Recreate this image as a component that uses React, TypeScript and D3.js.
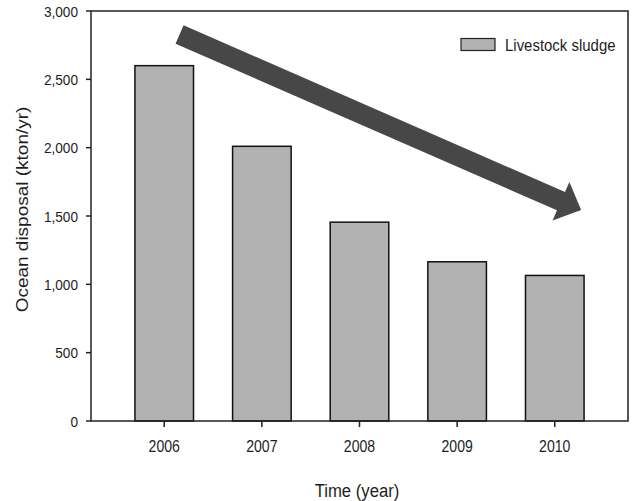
import React from "react";
import * as d3 from "d3";

const years = ["2006", "2007", "2008", "2009", "2010"];
const sludge = [2600, 2010, 1455, 1165, 1065];
const yTicks = [0, 500, 1000, 1500, 2000, 2500, 3000];
const seriesName = "Livestock sludge";
// trend arrow in data units: [category index, kton/yr]
const arrowFrom = [0.157, 2828];
const arrowTo = [4.27, 1544];

const W = 632;
const H = 501;
const M = { left: 91, right: 628, top: 11, bottom: 421 };
const FONT = "'Liberation Sans', Arial, sans-serif";
const SX = 0.88;

function T({
  x,
  y,
  size,
  anchor = "start",
  rotate = 0,
  dy,
  children,
}: {
  x: number;
  y: number;
  size: number;
  anchor?: string;
  rotate?: number;
  dy?: string;
  children: React.ReactNode;
}) {
  return (
    <text
      transform={`translate(${x},${y}) scale(${SX},1) rotate(${rotate})`}
      textAnchor={anchor as any}
      fontSize={size}
      dy={dy}
      fill="#1e1e1e"
    >
      {children}
    </text>
  );
}

export default function App() {
  const x = d3
    .scaleBand<string>()
    .domain(years)
    .range([M.left, M.right])
    .paddingInner(0.4)
    .paddingOuter(0.45);
  const y = d3.scaleLinear().domain([0, 3000]).range([M.bottom, M.top]);
  const xi = d3
    .scaleLinear()
    .domain([0, 1])
    .range([
      (x(years[0]) as number) + x.bandwidth() / 2,
      (x(years[1]) as number) + x.bandwidth() / 2,
    ]);
  const fmt = d3.format(",");

  // arrow polygon
  const x0 = xi(arrowFrom[0]);
  const y0 = y(arrowFrom[1]);
  const x1 = xi(arrowTo[0]);
  const y1 = y(arrowTo[1]);
  const dx = x1 - x0;
  const dy = y1 - y0;
  const len = Math.hypot(dx, dy);
  const ux = dx / len;
  const uy = dy / len;
  const nx = -uy;
  const ny = ux;
  const shaftHalf = 10;
  const headHalf = 21;
  const headLen = 22;
  const bx = x1 - ux * headLen;
  const by = y1 - uy * headLen;
  const pts: [number, number][] = [
    [x0 + nx * shaftHalf, y0 + ny * shaftHalf],
    [bx + nx * shaftHalf, by + ny * shaftHalf],
    [bx + nx * headHalf, by + ny * headHalf],
    [x1, y1],
    [bx - nx * headHalf, by - ny * headHalf],
    [bx - nx * shaftHalf, by - ny * shaftHalf],
    [x0 - nx * shaftHalf, y0 - ny * shaftHalf],
  ];
  const arrowPath = d3.line()(pts) + "Z";

  return (
    <svg
      width={W}
      height={H}
      style={{ position: "absolute", left: 0, top: 0, background: "#fff" }}
      fontFamily={FONT}
    >
      <rect x={0} y={0} width={W} height={H} fill="#fff" />
      {/* bars */}
      {years.map((yr, i) => (
        <rect
          key={yr}
          x={x(yr)}
          y={y(sludge[i])}
          width={x.bandwidth()}
          height={y(0) - y(sludge[i])}
          fill="#b2b2b2"
          stroke="#111"
          strokeWidth={1.5}
        />
      ))}
      {/* arrow */}
      <path d={arrowPath} fill="#474747" />
      {/* frame */}
      <rect
        x={M.left}
        y={M.top}
        width={M.right - M.left}
        height={M.bottom - M.top}
        fill="none"
        stroke="#222"
        strokeWidth={1.5}
      />
      {/* y ticks */}
      {yTicks.map((t) => (
        <g key={t}>
          <line x1={M.left - 5} x2={M.left} y1={y(t)} y2={y(t)} stroke="#222" strokeWidth={1.5} />
          <T x={M.left - 13} y={y(t)} dy="0.36em" anchor="end" size={15.5}>
            {fmt(t)}
          </T>
        </g>
      ))}
      {/* x ticks */}
      {years.map((yr) => {
        const cx = (x(yr) as number) + x.bandwidth() / 2;
        return (
          <g key={yr}>
            <line x1={cx} x2={cx} y1={M.bottom} y2={M.bottom + 6} stroke="#222" strokeWidth={1.5} />
            <T x={cx} y={452} anchor="middle" size={16}>
              {yr}
            </T>
          </g>
        );
      })}
      {/* axis titles */}
      <T x={357} y={496.5} anchor="middle" size={19}>
        Time (year)
      </T>
      <T x={28} y={209.5} anchor="middle" size={19} rotate={-90}>
        Ocean disposal (kton/yr)
      </T>
      {/* legend */}
      <rect x={461} y={38.5} width={34} height={12} fill="#b2b2b2" stroke="#222" strokeWidth={1.2} />
      <T x={505} y={50.5} size={17}>
        {seriesName}
      </T>
    </svg>
  );
}
